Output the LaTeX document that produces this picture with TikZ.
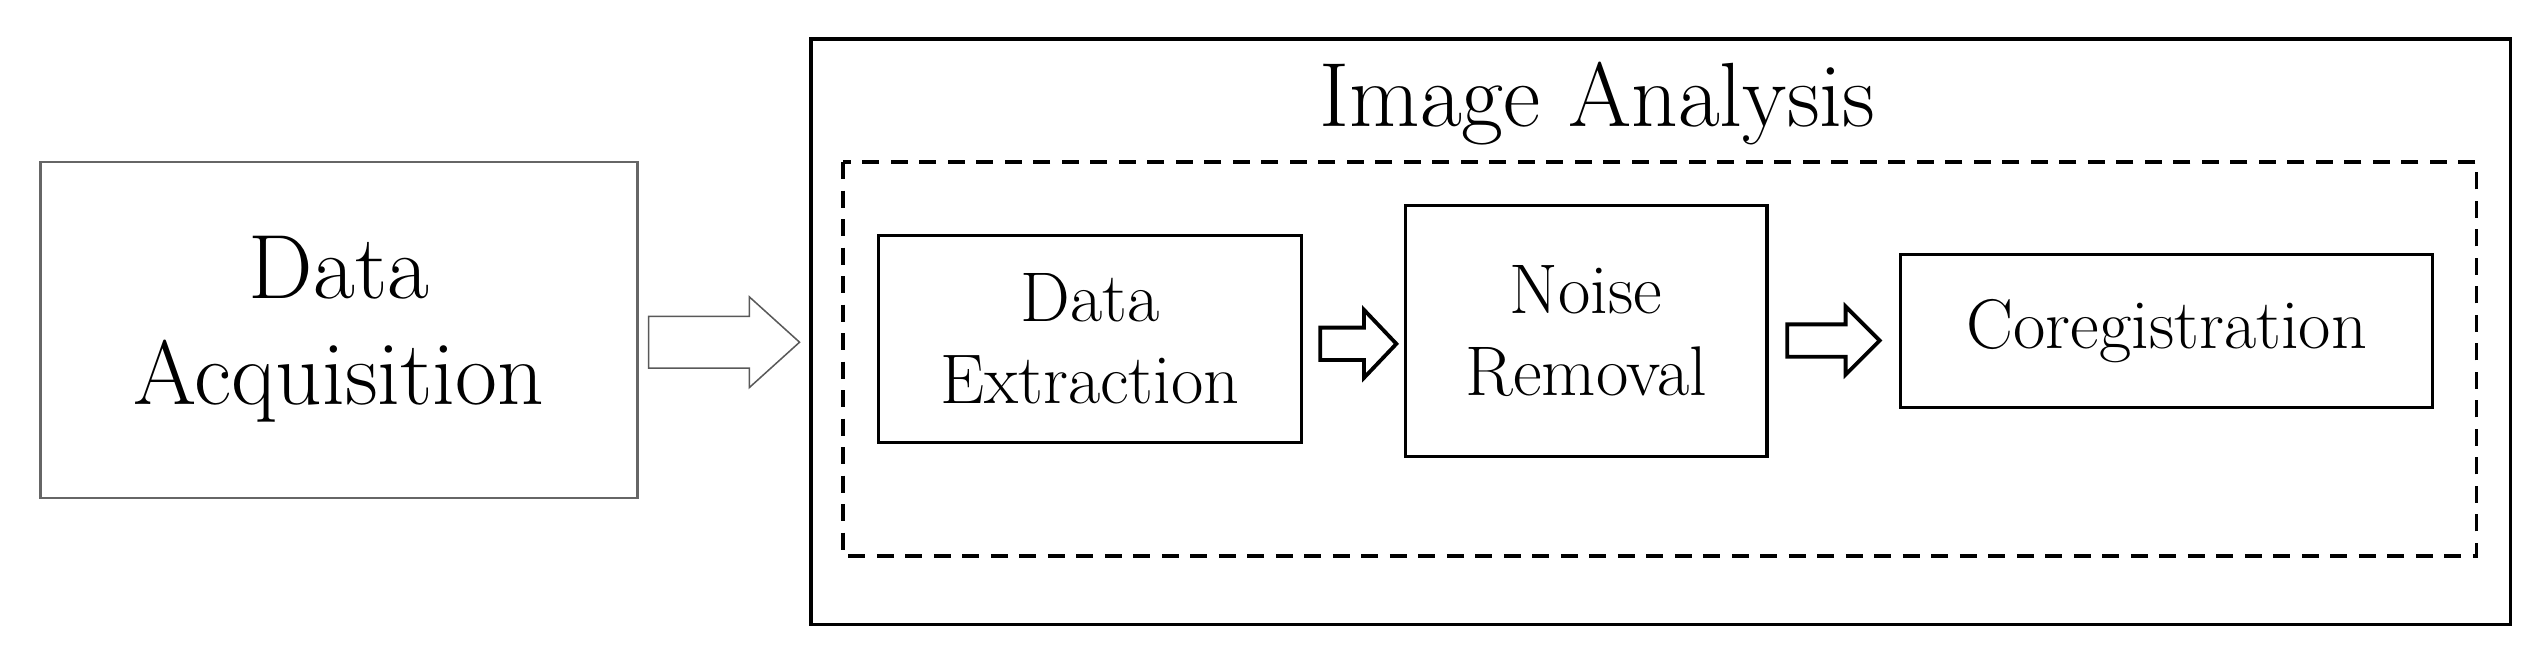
\documentclass[tikz,border=0pt]{standalone}
\begin{document}
\begin{tikzpicture}[x=0.03cm,y=-0.03cm,
	box/.style={draw,line width=1.6pt,align=center,inner sep=0pt},
	bigtxt/.style={font=\fontsize{48}{56}\selectfont},
	smalltxt/.style={font=\fontsize{37}{43}\selectfont}]
	% block arrow: x start, head start, tip, centre y, shaft half, head half
	\newcommand{\blockarr}[7]{\draw[#1,line join=miter] (#2,#5-#6) -- (#3,#5-#6) -- (#3,#5-#7) -- (#4,#5) -- (#3,#5+#7) -- (#3,#5+#6) -- (#2,#5+#6) -- cycle;}
	\useasboundingbox (0,0) rectangle (1568,407);
	\draw[line width=1.2pt,draw=gray!80!black] (25,100) rectangle (393,307);
	\node[bigtxt,align=center] (acq) at (209,203) {Data\\Acquisition};
	\draw[line width=2pt] (500,24) rectangle (1548,385);
	\node[bigtxt] (title) at (985,64) {Image Analysis};
	\draw[line width=2pt,dash pattern=on 9pt off 6pt] (520,100) rectangle (1527,343);
	\node[box,smalltxt,minimum width=261*0.03cm,minimum height=128*0.03cm] (extr) at (672,209) {Data\\Extraction};
	\node[box,smalltxt,minimum width=223*0.03cm,minimum height=155*0.03cm] (noise) at (978,204) {Noise\\Removal};
	\node[box,smalltxt,minimum width=328*0.03cm,minimum height=94*0.03cm] (coreg) at (1336,204) {Coregistration};
	\blockarr{line width=0.8pt,draw=gray!70!black}{400}{462}{493}{211}{16}{28}
	\blockarr{line width=2pt}{814}{841}{861}{212}{10}{21}
	\blockarr{line width=2pt}{1102}{1138}{1159}{210}{10}{21}
\end{tikzpicture}
\end{document}
